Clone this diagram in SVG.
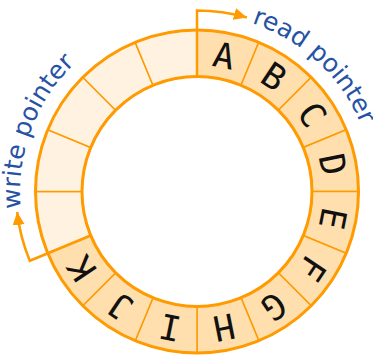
<svg xmlns="http://www.w3.org/2000/svg" width="373" height="355" viewBox="0 0 373 355">
<style>
.full{fill:#FFDFAE;stroke:#FF9A00;stroke-width:1.5}
.empty{fill:#FFF2E1;stroke:#FF9A00;stroke-width:1.5}
.rim{fill:none;stroke:#FF9A00;stroke-width:3}
.ptr{fill:none;stroke:#FF9A00;stroke-width:2.5}
.ltr{font-family:"DejaVu Sans Mono","Liberation Mono",monospace;font-size:35px;fill:#111;text-anchor:middle}
.lbl{font-family:"DejaVu Sans","Liberation Sans",sans-serif;font-size:25px;fill:#2552A3}
</style>
<defs>
<path id="sec" d="M0,-161.5 A161.5,161.5 0 0 1 61.80,-149.21 L44.01,-106.25 A115,115 0 0 0 0,-115 Z"/>
<marker id="ah" markerUnits="userSpaceOnUse" markerWidth="14" markerHeight="12" refX="13" refY="6" orient="auto">
<path d="M0,0 L13,6 L0,12 Z" fill="#FF9A00"/>
</marker>
<path id="rp" d="M54.70,-168.34 A177,177 0 0 1 174.31,-30.74"/>
<path id="wp" d="M-176.19,16.97 A177,177 0 0 1 -60.54,-166.33"/>
</defs>
<g transform="translate(197,191.5)">
<g id="slot-A"><use href="#sec" class="full" transform="rotate(0)"/><text class="ltr" transform="rotate(11.25)" x="0" y="-126">A</text></g>
<g id="slot-B"><use href="#sec" class="full" transform="rotate(22.5)"/><text class="ltr" transform="rotate(33.75)" x="0" y="-126">B</text></g>
<g id="slot-C"><use href="#sec" class="full" transform="rotate(45)"/><text class="ltr" transform="rotate(56.25)" x="0" y="-126">C</text></g>
<g id="slot-D"><use href="#sec" class="full" transform="rotate(67.5)"/><text class="ltr" transform="rotate(78.75)" x="0" y="-126">D</text></g>
<g id="slot-E"><use href="#sec" class="full" transform="rotate(90)"/><text class="ltr" transform="rotate(101.25)" x="0" y="-126">E</text></g>
<g id="slot-F"><use href="#sec" class="full" transform="rotate(112.5)"/><text class="ltr" transform="rotate(123.75)" x="0" y="-126">F</text></g>
<g id="slot-G"><use href="#sec" class="full" transform="rotate(135)"/><text class="ltr" transform="rotate(146.25)" x="0" y="-126">G</text></g>
<g id="slot-H"><use href="#sec" class="full" transform="rotate(157.5)"/><text class="ltr" transform="rotate(168.75)" x="0" y="-126">H</text></g>
<g id="slot-I"><use href="#sec" class="full" transform="rotate(180)"/><text class="ltr" transform="rotate(191.25)" x="0" y="-126">I</text></g>
<g id="slot-J"><use href="#sec" class="full" transform="rotate(202.5)"/><text class="ltr" transform="rotate(213.75)" x="0" y="-126">J</text></g>
<g id="slot-K"><use href="#sec" class="full" transform="rotate(225)"/><text class="ltr" transform="rotate(236.25)" x="0" y="-126">K</text></g>
<g id="slot-12"><use href="#sec" class="empty" transform="rotate(247.5)"/></g>
<g id="slot-13"><use href="#sec" class="empty" transform="rotate(270)"/></g>
<g id="slot-14"><use href="#sec" class="empty" transform="rotate(292.5)"/></g>
<g id="slot-15"><use href="#sec" class="empty" transform="rotate(315)"/></g>
<g id="slot-16"><use href="#sec" class="empty" transform="rotate(337.5)"/></g>
<g id="rim"><circle class="rim" r="161.5"/><circle class="rim" r="115"/></g>
<g id="connectors">
<path class="ptr" d="M0,-115 L0,-181 A181,181 0 0 1 49.89,-173.99" marker-end="url(#ah)"/>
<path class="ptr" d="M-106.25,44.01 L-167.22,69.27 A181,181 0 0 1 -179.84,20.49" marker-end="url(#ah)"/>
</g>
<g id="read-pointer"><text class="lbl"><textPath href="#rp">read pointer</textPath></text></g>
<g id="write-pointer"><text class="lbl"><textPath href="#wp">write pointer</textPath></text></g>
</g>
</svg>
